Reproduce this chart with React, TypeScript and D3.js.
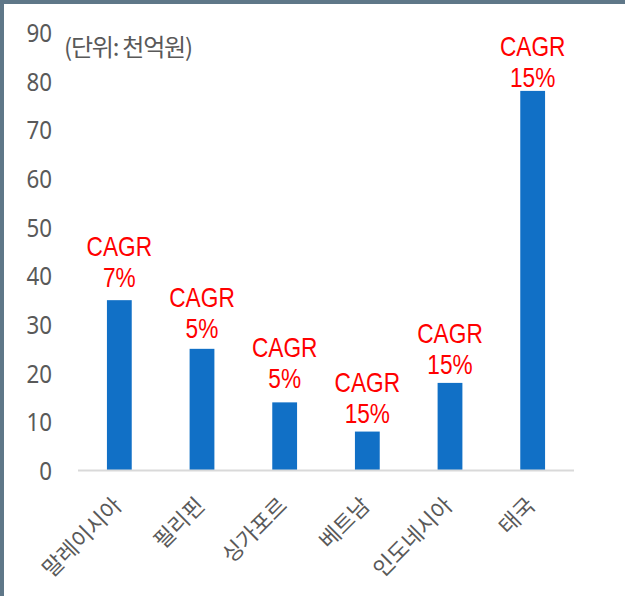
import React, { useEffect } from "react";
import * as d3 from "d3";

const categories = ["말레이시아", "필리핀", "싱가포르", "베트남", "인도네시아", "태국"];
const values = [35, 25, 14, 8, 18, 78];
const cagrLabels = ["7%", "5%", "5%", "15%", "15%", "15%"];
const yTicks = [0, 10, 20, 30, 40, 50, 60, 70, 80, 90];
const unitLabel = "(단위: 천억원)";

// label gap (px) between bar top and label baseline, as placed in the original
const labelGap = [13, 11, 14, 9, 9, 4];

const W = 625;
const H = 596;
const FONT = "'Noto Sans', 'Noto Sans CJK KR', sans-serif";
const LFONT = "'Liberation Sans', Arial, sans-serif";
const KFONT = "'Noto Sans CJK KR', 'Noto Sans', sans-serif";

export default function App() {
  useEffect(() => {
    document.body.style.margin = "0";
  }, []);

  const x = d3.scaleBand<string>().domain(categories).range([78, 574]).paddingInner(0.7).paddingOuter(0.35);
  const y = d3.scaleLinear().domain([0, 90]).range([470.5, 32.5]);
  const bw = x.bandwidth();

  return (
    <svg width={W} height={H} style={{ position: "absolute", left: 0, top: 0, display: "block" }}>
      <rect x={0} y={0} width={W} height={H} fill="#ffffff" />
      <rect x={0} y={0} width={W} height={4} fill="#5f7788" />
      <rect x={0} y={0} width={4} height={H} fill="#5f7788" />

      {yTicks.map((t) => (
        <text
          key={t}
          x={0}
          y={0}
          dy="0.36em"
          textAnchor="end"
          transform={`translate(52, ${y(t)}) scale(0.86, 1)`}
          fontFamily={FONT}
          fontSize={26}
          fill="#595959"
        >
          {t}
        </text>
      ))}

      <text x={64} y={47} dy="0.36em" fontFamily={KFONT} fontSize={24} fill="#595959" letterSpacing={-1.2}>
        {unitLabel}
      </text>

      {categories.map((c, i) => (
        <rect key={c} x={x(c)!} y={y(values[i])} width={bw} height={y(0) - y(values[i])} fill="#1170c6" />
      ))}

      <line x1={78} x2={574} y1={y(0)} y2={y(0)} stroke="#d9d9d9" strokeWidth={2} />

      {categories.map((c, i) => {
        const cx = x(c)! + bw / 2;
        const base = y(values[i]) - labelGap[i];
        return (
          <g key={"l" + c}>
            <text
              x={0}
              y={0}
              textAnchor="middle"
              transform={`translate(${cx}, ${base - 31}) scale(0.84, 1)`}
              fontFamily={LFONT}
              fontSize={27}
              fill="#ff0000"
            >
              CAGR
            </text>
            <text
              x={0}
              y={0}
              textAnchor="middle"
              transform={`translate(${cx}, ${base}) scale(0.84, 1)`}
              fontFamily={LFONT}
              fontSize={27}
              fill="#ff0000"
            >
              {cagrLabels[i]}
            </text>
          </g>
        );
      })}

      {categories.map((c) => {
        const cx = x(c)! + bw / 2 + 4;
        const ty = 507;
        return (
          <text
            key={"x" + c}
            x={cx}
            y={ty}
            textAnchor="end"
            transform={`rotate(-45, ${cx}, ${ty})`}
            fontFamily={KFONT}
            fontSize={22}
            fill="#595959"
          >
            {c}
          </text>
        );
      })}
    </svg>
  );
}
